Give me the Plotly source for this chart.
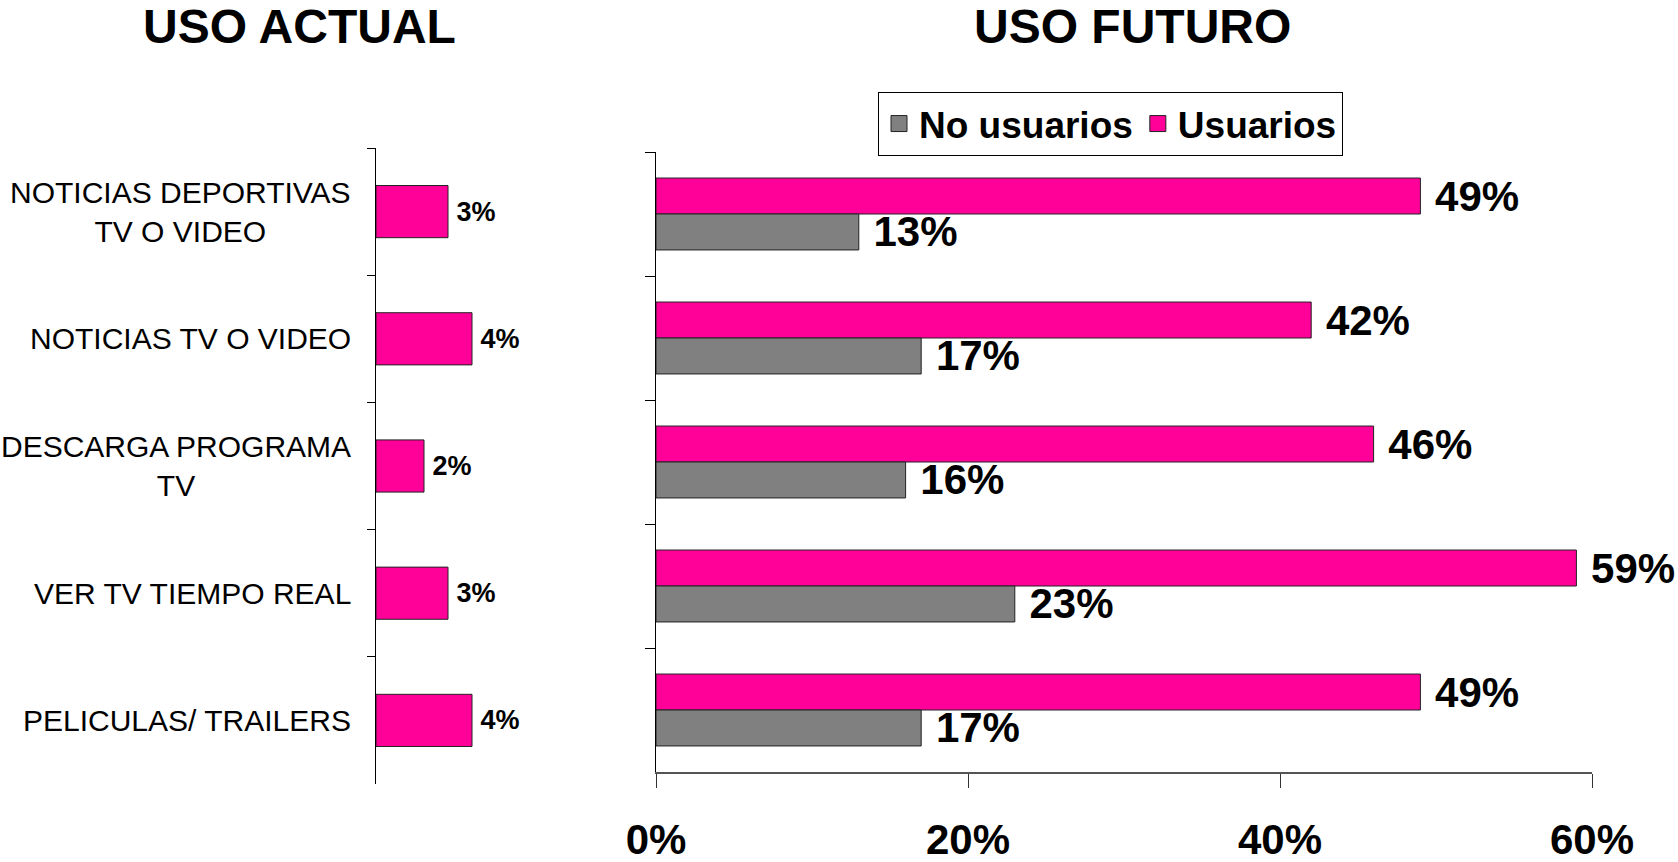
import plotly.graph_objects as go

W, H = 1678, 862

# ----------------------------------------------------------------------------
# Data
# ----------------------------------------------------------------------------
categories = [
    "NOTICIAS DEPORTIVAS<br>TV O VIDEO",
    "NOTICIAS TV O VIDEO",
    "DESCARGA PROGRAMA<br>TV",
    "VER TV TIEMPO REAL",
    "PELICULAS/ TRAILERS",
]
uso_actual = [3, 4, 2, 3, 4]
usuarios = [49, 42, 46, 59, 49]
no_usuarios = [13, 17, 16, 23, 17]
x_ticks = [0, 20, 40, 60]
x_tick_labels = ["0%", "20%", "40%", "60%"]

PINK = "#FF0099"
GREY = "#808080"
EDGE = "#222222"
FONT = "Arial, Liberation Sans, sans-serif"


def px_x(p):
    return p / W


def px_y(p):
    return 1 - p / H


fig = go.Figure()

# Left: uso actual
fig.add_trace(go.Bar(
    y=categories, x=uso_actual, orientation="h", name="Uso actual",
    xaxis="x2", yaxis="y2", width=0.41, showlegend=False,
    marker=dict(color=PINK, line=dict(color=EDGE, width=1)),
    texttemplate="\u2009%{x}%", textposition="outside", cliponaxis=False,
    constraintext="none",
    textfont=dict(family=FONT, size=27, color="black", weight="bold"),
))

# Right: uso futuro
fig.add_trace(go.Bar(
    y=categories, x=usuarios, orientation="h", name="Usuarios", showlegend=False,
    marker=dict(color=PINK, line=dict(color=EDGE, width=1)),
    texttemplate=" %{x}%", textposition="outside", cliponaxis=False,
    constraintext="none",
    textfont=dict(family=FONT, size=42, color="black", weight="bold"),
))
fig.add_trace(go.Bar(
    y=categories, x=no_usuarios, orientation="h", name="No usuarios", showlegend=False,
    marker=dict(color=GREY, line=dict(color=EDGE, width=1)),
    texttemplate=" %{x}%", textposition="outside", cliponaxis=False,
    constraintext="none",
    textfont=dict(family=FONT, size=42, color="black", weight="bold"),
))

# legend entries with larger square keys
for name, color in [("No usuarios", GREY), ("Usuarios", PINK)]:
    fig.add_trace(go.Scatter(
        x=[None], y=[None], mode="markers", name=name,
        marker=dict(symbol="square", size=22, color=color,
                    line=dict(color=EDGE, width=1)),
    ))

# category labels, centred like the original
for cat in categories:
    fig.add_annotation(
        x=px_x(353), xref="paper", y=cat, yref="y2",
        xanchor="right", yanchor="middle", align="center", showarrow=False,
        text=cat, font=dict(family=FONT, size=30, color="black"),
    )

fig.add_annotation(
    x=px_x(299), y=px_y(27), xref="paper", yref="paper", showarrow=False,
    xanchor="center", yanchor="middle",
    text="<b>USO ACTUAL</b>", font=dict(family=FONT, size=48, color="black"),
)
fig.add_annotation(
    x=px_x(1132), y=px_y(27), xref="paper", yref="paper", showarrow=False,
    xanchor="center", yanchor="middle",
    text="<b>USO FUTURO</b>", font=dict(family=FONT, size=48, color="black"),
)

fig.update_layout(
    template="none",
    width=W, height=H,
    margin=dict(l=0, r=0, t=0, b=0, pad=0),
    paper_bgcolor="white", plot_bgcolor="white",
    barmode="group", bargap=0.42, bargroupgap=0,
    font=dict(family=FONT, color="black"),
    xaxis=dict(
        domain=[px_x(656), px_x(1592)], range=[0, 60], automargin=False,
        tickvals=x_ticks, ticktext=x_tick_labels,
        ticks="outside", ticklen=14, tickcolor="#333", tickwidth=1,
        showline=True, linecolor="#555", linewidth=1.5,
        showgrid=False, zeroline=False,
        tickfont=dict(family=FONT, size=42, color="black", weight="bold"),
        ticklabelstandoff=16,
    ),
    yaxis=dict(
        domain=[px_y(772), px_y(152)], type="category", autorange="reversed",
        automargin=False,
        showline=True, linecolor="black", linewidth=1,
        ticks="outside", ticklen=10, tickson="boundaries", tickcolor="black",
        tickwidth=1, showticklabels=False, showgrid=False, zeroline=False,
    ),
    xaxis2=dict(
        domain=[px_x(376), px_x(376 + 240)], range=[0, 10],
        visible=False, anchor="y2", automargin=False,
    ),
    yaxis2=dict(
        domain=[px_y(784), px_y(148)], type="category", autorange="reversed",
        anchor="x2", automargin=False,
        showline=True, linecolor="black", linewidth=1,
        ticks="outside", ticklen=8, tickson="boundaries", tickcolor="black",
        tickwidth=1, showticklabels=False, showgrid=False, zeroline=False,
    ),
    legend=dict(
        orientation="h", x=px_x(878), y=px_y(92), xanchor="left", yanchor="top",
        bordercolor="black", borderwidth=1, bgcolor="white",
        font=dict(family=FONT, size=37, color="black", weight="bold"),
    ),
    showlegend=True,
)

fig.write_html(
    "out.html",
    config={"displayModeBar": False},
    post_script="document.body.style.margin='0px';",
)
